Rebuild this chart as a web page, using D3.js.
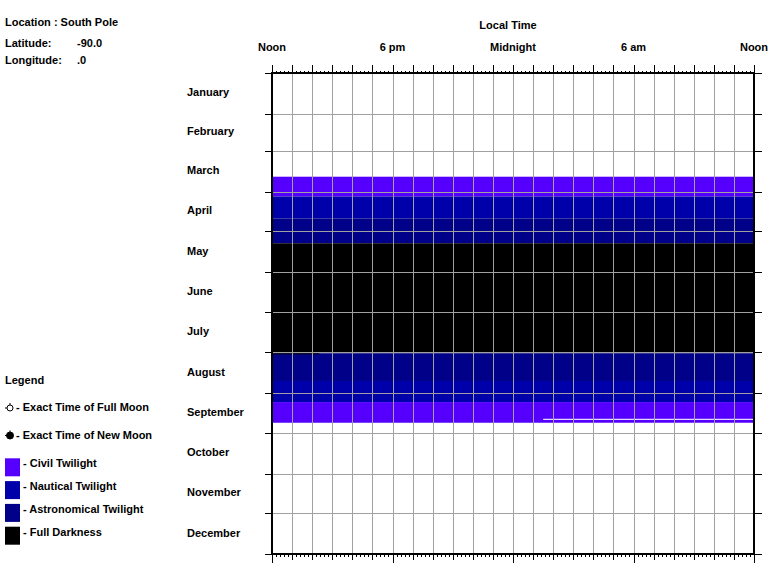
<!DOCTYPE html>
<html>
<head>
<meta charset="utf-8">
<script src="https://cdn.jsdelivr.net/npm/d3@7"></script>
<style>
  body { margin: 0; background: #fff; }
  svg text { font-family: "Liberation Sans", Arial, sans-serif; font-weight: bold; font-size: 11px; fill: #000; }
</style>
</head>
<body>
<svg id="chart" width="772" height="569"></svg>
<script>
// header info
var infoLabels = ["Latitude:", "Longitude:"];
var infoValues = ["-90.0", ".0"];

// time axis (hours after local noon)
var hourLabels = ["Noon", "6 pm", "Midnight", "6 am", "Noon"];
var hourLabelAt = [0, 6, 12, 18, 24];

// months
var months = ["January", "February", "March", "April", "May", "June",
  "July", "August", "September", "October", "November", "December"];
var monthDays = [31, 28, 31, 30, 31, 30, 31, 31, 30, 31, 30, 31];

// darkness bands, day of year and hours after noon
var bandKind     = ["civil", "nautical", "astronomical", "dark", "astronomical", "dark", "nautical", "civil", "day"];
var bandDayFrom  = [78.7, 93.7, 110.3, 129.2, 212.7, 212.7, 233.7, 249.7, 262.4];
var bandDayTo    = [93.7, 110.3, 129.2, 212.7, 233.7, 213.5, 249.7, 265.4, 263.2];
var bandHourFrom = [0, 0, 0, 0, 0, 0, 0, 0, 13.5];
var bandHourTo   = [24, 24, 24, 24, 24, 2.35, 24, 24, 24];

// legend
var legendKinds = ["civil", "nautical", "astronomical", "dark"];
var legendNames = ["- Civil Twilight", "- Nautical Twilight", "- Astronomical Twilight", "- Full Darkness"];
var kindColors = { civil: "#5500ff", nautical: "#0000aa", astronomical: "#000088", dark: "#000000", day: "#ffffff" };

var svg = d3.select("#chart");
var plotLeft = 272, plotRight = 754, plotTop = 73, plotBottom = 554;

var x = d3.scaleLinear().domain([0, 24]).range([plotLeft, plotRight]);
var y = d3.scaleLinear().domain([0, 365]).range([plotTop, plotBottom]);

var monthStart = [0];
monthDays.forEach(function (d, i) { monthStart.push(monthStart[i] + d); });

// bands
svg.append("g").selectAll("rect")
  .data(bandKind)
  .enter().append("rect")
  .attr("x", function (d, i) { return x(bandHourFrom[i]); })
  .attr("y", function (d, i) { return y(bandDayFrom[i]); })
  .attr("width", function (d, i) { return x(bandHourTo[i]) - x(bandHourFrom[i]); })
  .attr("height", function (d, i) { return y(bandDayTo[i]) - y(bandDayFrom[i]); })
  .style("fill", function (d) { return kindColors[d]; });

// grid
var grid = svg.append("g").attr("shape-rendering", "crispEdges")
  .style("stroke", "#a0a0a0").style("stroke-width", 1);
grid.selectAll(".vg").data(d3.range(1, 24)).enter().append("line")
  .attr("x1", function (d) { return Math.round(x(d)) + 0.5; })
  .attr("x2", function (d) { return Math.round(x(d)) + 0.5; })
  .attr("y1", plotTop).attr("y2", plotBottom);
grid.selectAll(".hg").data(monthStart.slice(1, 12)).enter().append("line")
  .attr("y1", function (d) { return Math.round(y(d)) + 0.5; })
  .attr("y2", function (d) { return Math.round(y(d)) + 0.5; })
  .attr("x1", plotLeft).attr("x2", plotRight);

// axes
var minorTicks = d3.range(0, 24.01, 0.2);
var hourTicks = d3.range(0, 25);
var sixTicks = [0, 6, 12, 18, 24];

function axisStyle(g) {
  g.select(".domain").remove();
  g.selectAll("text").remove();
  g.selectAll("line").style("stroke", "#000").attr("shape-rendering", "crispEdges");
}

svg.append("g").attr("transform", "translate(0," + plotTop + ")")
  .call(d3.axisTop(x).tickValues(minorTicks).tickSize(2)).call(axisStyle);
svg.append("g").attr("transform", "translate(0," + plotTop + ")")
  .call(d3.axisTop(x).tickValues(hourTicks).tickSize(8)).call(axisStyle);

svg.append("g").attr("transform", "translate(0," + plotBottom + ")")
  .call(d3.axisBottom(x).tickValues(minorTicks).tickSize(3)).call(axisStyle);
svg.append("g").attr("transform", "translate(0," + plotBottom + ")")
  .call(d3.axisBottom(x).tickValues(hourTicks).tickSize(6)).call(axisStyle);
svg.append("g").attr("transform", "translate(0," + plotBottom + ")")
  .call(d3.axisBottom(x).tickValues(sixTicks).tickSize(9)).call(axisStyle);

svg.append("g").attr("transform", "translate(" + plotLeft + ",0)")
  .call(d3.axisLeft(y).tickValues(monthStart).tickSize(7)).call(axisStyle);
svg.append("g").attr("transform", "translate(" + plotRight + ",0)")
  .call(d3.axisRight(y).tickValues(monthStart).tickSize(8)).call(axisStyle);

// frame
svg.append("rect")
  .attr("x", plotLeft).attr("y", plotTop)
  .attr("width", plotRight - plotLeft).attr("height", plotBottom - plotTop)
  .style("fill", "none").style("stroke", "#000").style("stroke-width", 2);

// hour labels
svg.selectAll(".hl").data(hourLabels).enter().append("text")
  .attr("x", function (d, i) { return x(hourLabelAt[i]); })
  .attr("y", 51)
  .attr("text-anchor", "middle")
  .text(function (d) { return d; });

svg.append("text").attr("x", x(12) - 5).attr("y", 29).attr("text-anchor", "middle").text("Local Time");

// month labels
svg.selectAll(".ml").data(months).enter().append("text")
  .attr("x", 187)
  .attr("y", function (d, i) { return (y(monthStart[i]) + y(monthStart[i + 1])) / 2 + 3; })
  .text(function (d) { return d; });

// header
svg.append("text").attr("x", 5).attr("y", 26).text("Location : South Pole");
infoLabels.forEach(function (t, i) {
  svg.append("text").attr("x", 5).attr("y", 46.5 + i * 17).text(t);
  svg.append("text").attr("x", 77).attr("y", 46.5 + i * 17).text(infoValues[i]);
});

// legend
svg.append("text").attr("x", 5).attr("y", 384).text("Legend");

function moonSymbol(cx, cy, filled) {
  var g = svg.append("g").style("stroke", "#000").style("stroke-width", 1);
  g.append("line").attr("x1", cx - 5).attr("x2", cx - 3).attr("y1", cy).attr("y2", cy);
  g.append("line").attr("x1", cx).attr("x2", cx).attr("y1", cy - 5).attr("y2", cy - 3);
  g.append("circle").attr("cx", cx).attr("cy", cy).attr("r", filled ? 3.5 : 3)
    .style("fill", filled ? "#000" : "#fff");
}
moonSymbol(10, 408, false);
svg.append("text").attr("x", 16).attr("y", 411).text("- Exact Time of Full Moon");
moonSymbol(10, 435.5, true);
svg.append("text").attr("x", 16).attr("y", 438.5).text("- Exact Time of New Moon");

var lg = svg.append("g").selectAll("g").data(legendKinds).enter().append("g")
  .attr("transform", function (d, i) { return "translate(5," + (458.3 + i * 22.8) + ")"; });
lg.append("rect").attr("width", 15).attr("height", 18)
  .style("fill", function (d) { return kindColors[d]; });
lg.append("text").attr("x", 18).attr("y", 9)
  .text(function (d, i) { return legendNames[i]; });
</script>
</body>
</html>
